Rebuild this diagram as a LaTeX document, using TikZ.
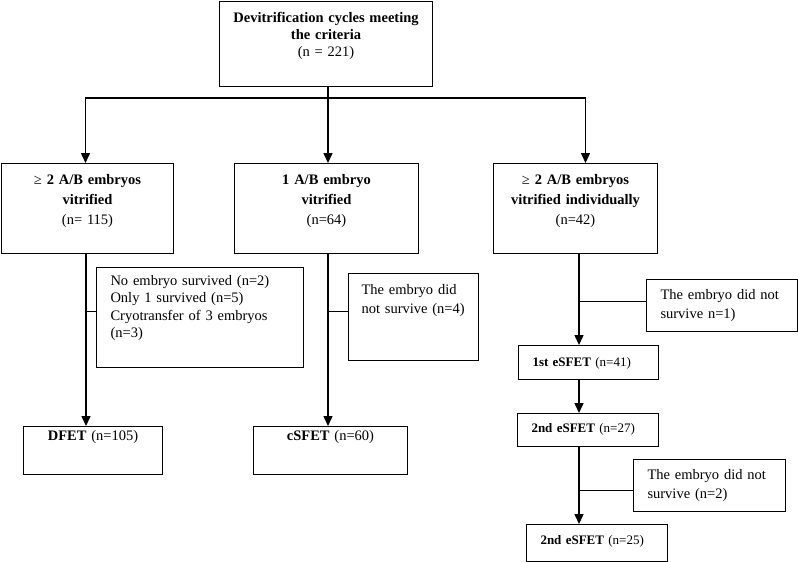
\documentclass[tikz,border=0pt]{standalone}
\usepackage{fontspec}
\setmainfont{Liberation Serif}
\usetikzlibrary{arrows.meta}

\begin{document}
\begin{tikzpicture}[x=1pt,y=-1pt,
  box/.style={draw, line width=1pt, anchor=north west, inner ysep=0pt},
  mainbox/.style={box, inner xsep=0pt, align=center, font=\fontsize{14.5}{20}\selectfont},
  sidebox/.style={box, inner xsep=14pt, align=left, font=\fontsize{14.5}{19}\selectfont},
  esfet/.style={box, inner xsep=14pt, align=left, font=\fontsize{13}{16}\selectfont},
  arr/.style={line width=1.5pt, -{Triangle[width=9pt,length=10pt]}},
  branch/.style={line width=1pt}]
  \useasboundingbox (0,0) rectangle (798,562);
  % columns
  \coordinate (split) at (328,98);
  \coordinate (lcol) at (86,253);
  \coordinate (mcol) at (328,253);
  \coordinate (rcol) at (579,253);
  % level 1
  \node[mainbox, text width=213pt, text height=21.5pt, text depth=63.5pt, font=\fontsize{14.5}{17}\selectfont] (cycles) at (219,1)
    {\textbf{Devitrification cycles meeting}\\\textbf{the criteria}\\(n = 221)};
  % level 2
  \node[mainbox, text width=172pt, text height=20.5pt, text depth=69.5pt] (multi) at (1,163)
    {≥ \textbf{2 A/B embryos}\\\textbf{vitrified}\\(n= 115)};
  \node[mainbox, text width=184pt, text height=20.5pt, text depth=69.5pt] (single) at (234,163)
    {\textbf{1 A/B embryo}\\\textbf{vitrified}\\(n=64)};
  \node[mainbox, text width=164pt, text height=20.5pt, text depth=69.5pt] (indiv) at (493,163)
    {≥ \textbf{2 A/B embryos}\\\textbf{vitrified individually}\\(n=42)};
  % losses
  \node[sidebox, text width=179pt, text height=17.5pt, text depth=82.5pt, font=\fontsize{14.5}{17.5}\selectfont] (lost1) at (96,267)
    {No embryo survived (n=2)\\Only 1 survived (n=5)\\Cryotransfer of 3 embryos\\(n=3)};
  \node[sidebox, inner xsep=13pt, text width=104pt, text height=21pt, text depth=66pt] (lost2) at (348,273)
    {The embryo did\\not survive (n=4)};
  \node[sidebox, text width=123pt, text height=19.5pt, text depth=32.5pt] (lost3) at (646,279)
    {The embryo did not\\survive n=1)};
  \node[sidebox, text width=124pt, text height=19.5pt, text depth=32.5pt] (lost4) at (633,459)
    {The embryo did not\\survive (n=2)};
  % transfers
  \node[mainbox, text width=139pt, text height=14pt, text depth=34pt] (dfet) at (23,426) {\textbf{DFET} (n=105)};
  \node[mainbox, text width=154pt, text height=14pt, text depth=34pt] (csfet) at (253,426) {\textbf{cSFET} (n=60)};
  \node[esfet, text width=112pt, text height=21pt, text depth=13pt] (first) at (518,345) {\textbf{1st eSFET} (n=41)};
  \node[esfet, text width=113pt, text height=19pt, text depth=14pt] (second) at (517,413) {\textbf{2nd eSFET} (n=27)};
  \node[esfet, text width=113pt, text height=19.5pt, text depth=17.5pt] (third) at (526,524) {\textbf{2nd eSFET} (n=25)};
  % arrows
  \draw[arr] (cycles.south -| split) -- (single.north -| split);
  \draw[arr] (split) -| ([xshift=-2pt]multi.north);
  \draw[arr] (split) -| ([xshift=10pt]indiv.north);
  \draw[arr] (multi.south -| lcol) -- (dfet.north -| lcol);
  \draw[arr] (single.south -| mcol) -- (csfet.north -| mcol);
  \draw[arr] (indiv.south -| rcol) -- (first.north -| rcol);
  \draw[arr] (first.south -| rcol) -- (second.north -| rcol);
  \draw[arr] (second.south -| rcol) -- (third.north -| rcol);
  \draw[branch] ([yshift=6pt]lost1.west) -- ([yshift=6pt]lost1.west -| lcol);
  \draw[branch] ([yshift=5.5pt]lost2.west) -- ([yshift=5.5pt]lost2.west -| mcol);
  \draw[branch] ([yshift=4pt]lost3.west) -- ([yshift=4pt]lost3.west -| rcol);
  \draw[branch] ([yshift=-5pt]lost4.west) -- ([yshift=-5pt]lost4.west -| rcol);
\end{tikzpicture}
\end{document}
